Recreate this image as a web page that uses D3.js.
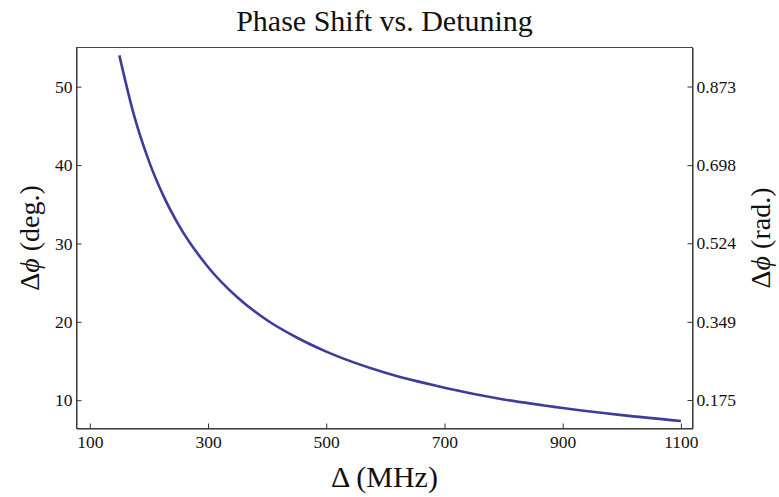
<!DOCTYPE html>
<html>
<head>
<meta charset="utf-8">
<script src="https://cdn.jsdelivr.net/npm/d3@7"></script>
<style>
  body { margin: 0; background: #fff; }
  svg { display: block; }
  text { font-family: "Liberation Serif", "Times New Roman", Times, serif; fill: #111; }
</style>
</head>
<body>
<div id="chart"></div>
<script>
// values
const detuning = [150, 175, 200, 225, 250, 300, 350, 400, 450, 500, 600, 700, 800, 900, 1000, 1100];
const phaseDeg = [54.0, 46.3, 40.5, 36.0, 32.4, 27.0, 23.1, 20.2, 18.0, 16.2, 13.5, 11.6, 10.1, 9.0, 8.1, 7.35];

const xTicks = [100, 300, 500, 700, 900, 1100];
const degTicks = [10, 20, 30, 40, 50];
const radTicks = [0.175, 0.349, 0.524, 0.698, 0.873];

const width = 779, height = 497;
const margin = {top: 47.5, right: 86.5, bottom: 68.5, left: 76.5};
const innerW = width - margin.left - margin.right;
const innerH = height - margin.top - margin.bottom;
const serif = '"Liberation Serif", "Times New Roman", Times, serif';

const svg = d3.select("#chart").append("svg")
  .attr("width", width)
  .attr("height", height);

const g = svg.append("g")
  .attr("transform", `translate(${margin.left},${margin.top})`);

const x = d3.scaleLinear().domain([77.5, 1119.6]).range([0, innerW]);
const y = d3.scaleLinear().domain([6.39, 55.0]).range([innerH, 0]);
const yRad = d3.scaleLinear()
  .domain(y.domain().map(d => d * Math.PI / 180))
  .range([innerH, 0]);

// frame
g.append("rect")
  .attr("width", innerW)
  .attr("height", innerH)
  .attr("fill", "none")
  .attr("stroke", "#444")
  .attr("stroke-width", 1);

function styleAxis(sel) {
  sel.attr("font-family", serif);
  sel.select(".domain").attr("stroke", "#333");
  sel.selectAll(".tick line").attr("stroke", "#333");
  sel.selectAll(".tick text")
    .attr("fill", "#111")
    .attr("font-family", serif)
    .style("font-size", "17.5px");
}

g.append("g")
  .attr("transform", `translate(0,${innerH})`)
  .call(d3.axisBottom(x).tickValues(xTicks).tickFormat(d3.format("d")).tickSizeInner(-5).tickSizeOuter(0).tickPadding(7))
  .call(styleAxis);

g.append("g")
  .call(d3.axisLeft(y).tickValues(degTicks).tickSizeInner(-5).tickSizeOuter(0).tickPadding(4))
  .call(styleAxis);

g.append("g")
  .attr("transform", `translate(${innerW},0)`)
  .call(d3.axisRight(yRad).tickValues(radTicks).tickFormat(d3.format(".3f")).tickSizeInner(-5).tickSizeOuter(0).tickPadding(4))
  .call(styleAxis);

// curve
const line = d3.line()
  .x((d, i) => x(detuning[i]))
  .y(d => y(d))
  .curve(d3.curveMonotoneX);

g.append("path")
  .datum(phaseDeg)
  .attr("fill", "none")
  .attr("stroke", "#3d3d99")
  .attr("stroke-width", 2.6)
  .attr("d", line);

// titles
svg.append("text")
  .attr("x", margin.left + innerW / 2)
  .attr("y", 31)
  .attr("text-anchor", "middle")
  .style("font-size", "30px")
  .text("Phase Shift vs. Detuning");

svg.append("text")
  .attr("x", margin.left + innerW / 2)
  .attr("y", 487)
  .attr("text-anchor", "middle")
  .style("font-size", "30px")
  .text("Δ (MHz)");

function phiTitle(xPos, unit) {
  const t = svg.append("text")
    .attr("transform", `translate(${xPos},${margin.top + innerH / 2}) rotate(-90)`)
    .attr("text-anchor", "middle")
    .style("font-size", "28px");
  t.append("tspan").text("Δ");
  t.append("tspan").style("font-style", "italic").text("ϕ");
  t.append("tspan").text(` (${unit})`);
}
phiTitle(39, "deg.");
phiTitle(770, "rad.");
</script>
</body>
</html>
